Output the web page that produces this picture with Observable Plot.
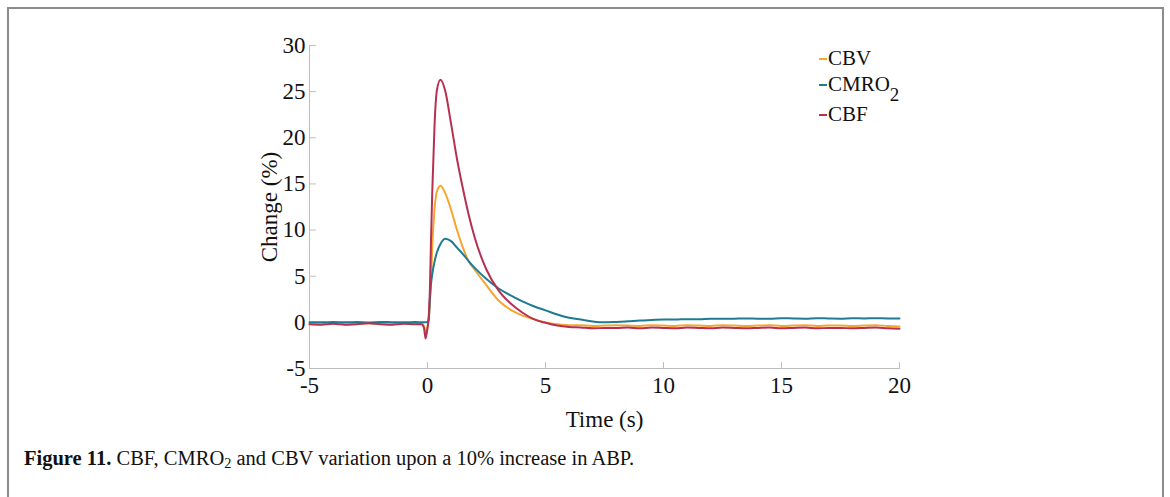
<!DOCTYPE html>
<html><head><meta charset="utf-8">
<script src="https://cdn.jsdelivr.net/npm/d3@7"></script>
<script src="https://cdn.jsdelivr.net/npm/@observablehq/plot@0.6"></script>
<style>
html,body{margin:0;padding:0;background:#fff;width:1170px;height:497px;overflow:hidden;font-family:"Liberation Serif","Times New Roman",serif;color:#111;}
#frame{position:absolute;left:7px;top:7px;width:1157px;height:560px;border:2px solid #8c8c8c;border-bottom:none;box-sizing:border-box;}
#chart{position:absolute;left:0;top:0;}
.leg{position:absolute;font-size:21px;line-height:1;display:flex;align-items:center;white-space:nowrap;}
.sw{display:inline-block;width:8px;height:2px;margin-right:1px;}
.leg sub{font-size:0.9em;vertical-align:-0.55em;line-height:0;}
#caption{position:absolute;left:24px;top:447px;font-size:20.5px;white-space:nowrap;}
#caption sub{font-size:0.7em;vertical-align:-0.2em;line-height:0;}
</style></head><body>
<div id="frame"></div>
<div id="chart"></div>
<div class="leg" style="left:819px;top:48px;"><span class="sw" style="background:#f7a531"></span>CBV</div>
<div class="leg" style="left:819px;top:74px;"><span class="sw" style="background:#1d7b93"></span><span>CMRO<sub>2</sub></span></div>
<div class="leg" style="left:819px;top:104px;"><span class="sw" style="background:#b63150"></span>CBF</div>
<div id="caption"><b>Figure 11.</b> CBF, CMRO<sub>2</sub> and CBV variation upon a 10% increase in ABP.</div>
<script>
const time = [-5,-4.5,-4,-3.5,-3,-2.5,-2,-1.5,-1,-0.5,-0.25,-0.15,-0.08,
  0,0.05,0.1,0.15,0.2,0.3,0.4,0.55,0.75,
  1,1.25,1.5,1.75,2,
  2.5,3,3.5,4,4.5,5,5.5,6,6.5,7,7.5,8,
  8.5,9,9.5,10,10.5,11,11.5,12,12.5,13,13.5,14,14.5,15,15.5,16,16.5,17,17.5,18,18.5,19,19.5,20];
const cbv = [-0.15,-0.2,-0.1,-0.2,-0.15,-0.1,-0.15,-0.2,-0.1,-0.15,-0.15,-0.4,-1.1,
  -0.5,0.3,2,4.5,8,12.3,14.2,14.8,14.0,
  12.2,10.0,8.1,6.6,5.7,
  4.0,2.4,1.4,0.75,0.35,0.0,-0.2,-0.3,-0.3,-0.4,-0.35,-0.3,
  -0.35,-0.4,-0.3,-0.35,-0.4,-0.3,-0.35,-0.4,-0.3,-0.35,-0.4,-0.35,-0.3,-0.4,-0.35,-0.3,-0.4,-0.35,-0.35,-0.4,-0.35,-0.3,-0.4,-0.45];
const cmro2 = [0.02,0,0.05,0,0.03,-0.02,0.05,0.02,0,0.03,0,0,0,
  0,0.3,2.5,4.2,5.2,6.6,7.6,8.5,9.05,
  8.8,8.1,7.4,6.6,5.9,
  4.7,3.7,2.95,2.3,1.75,1.3,0.85,0.5,0.3,0.1,0.0,0.05,
  0.12,0.2,0.25,0.3,0.3,0.35,0.35,0.4,0.38,0.4,0.42,0.4,0.4,0.45,0.42,0.4,0.45,0.42,0.4,0.45,0.42,0.45,0.42,0.42];
const cbf = [-0.2,-0.25,-0.15,-0.25,-0.2,-0.1,-0.2,-0.25,-0.15,-0.2,-0.2,-0.6,-1.75,
  -0.6,0.5,3.5,9,14,21.5,25.2,26.3,25.1,
  21.5,17.7,14.5,11.6,9.2,
  5.7,3.5,2.1,1.1,0.35,-0.05,-0.35,-0.5,-0.55,-0.65,-0.6,-0.6,
  -0.55,-0.65,-0.55,-0.6,-0.65,-0.55,-0.6,-0.65,-0.55,-0.6,-0.65,-0.6,-0.55,-0.65,-0.6,-0.55,-0.65,-0.6,-0.6,-0.65,-0.6,-0.55,-0.65,-0.7];
const xTicks = [-5,0,5,10,15,20];
const yTicks = [-5,0,5,10,15,20,25,30];
const seriesNames = ["CBV","CMRO2","CBF"];
const seriesColors = ["#f7a531","#1d7b93","#b63150"];
const xLabel = "Time (s)";
const yLabel = "Change (%)";

const seriesValues = [cbv, cmro2, cbf];
const rows = [];
seriesNames.forEach((name, i) => time.forEach((t, j) => rows.push({series: name, t, v: seriesValues[i][j]})));

const tickShape = {draw(ctx, l) { ctx.moveTo(0, 0); ctx.lineTo(0, -l); }};
const axisGray = "#bdbdbd";

const chart = Plot.plot({
  width: 1170, height: 440,
  marginLeft: 309, marginRight: 271, marginTop: 45, marginBottom: 72,
  style: {fontFamily: "'Liberation Serif', 'Times New Roman', serif", fontSize: "20px", color: "#111", background: "transparent", overflow: "visible"},
  x: {domain: [-5, 20]},
  y: {domain: [-5, 30]},
  color: {domain: seriesNames, range: seriesColors},
  marks: [
    Plot.ruleY([-5], {stroke: axisGray, strokeWidth: 1}),
    Plot.ruleX([-5], {stroke: axisGray, strokeWidth: 1}),
    Plot.vector(xTicks, {x: d => d, frameAnchor: "bottom", length: 6, anchor: "start", shape: tickShape, stroke: axisGray, strokeWidth: 1}),
    Plot.vector(yTicks, {y: d => d, frameAnchor: "left", rotate: 90, length: 6, anchor: "start", shape: tickShape, stroke: axisGray, strokeWidth: 1}),
    Plot.axisX(xTicks, {tickSize: 0, tickPadding: 8, tickFormat: d => String(d), fontSize: 23, label: xLabel, labelAnchor: "center", labelOffset: 58, labelArrow: "none", fontSize: 23}),
    Plot.axisY(yTicks, {tickSize: 0, tickPadding: 4, tickFormat: d => String(d), fontSize: 23, label: yLabel, labelAnchor: "center", labelOffset: 49, labelArrow: "none"}),
    Plot.line(rows, {x: "t", y: "v", z: "series", stroke: "series", strokeWidth: 2, curve: "monotone-x"})
  ]
});
document.getElementById("chart").appendChild(chart);
</script>
</body></html>
